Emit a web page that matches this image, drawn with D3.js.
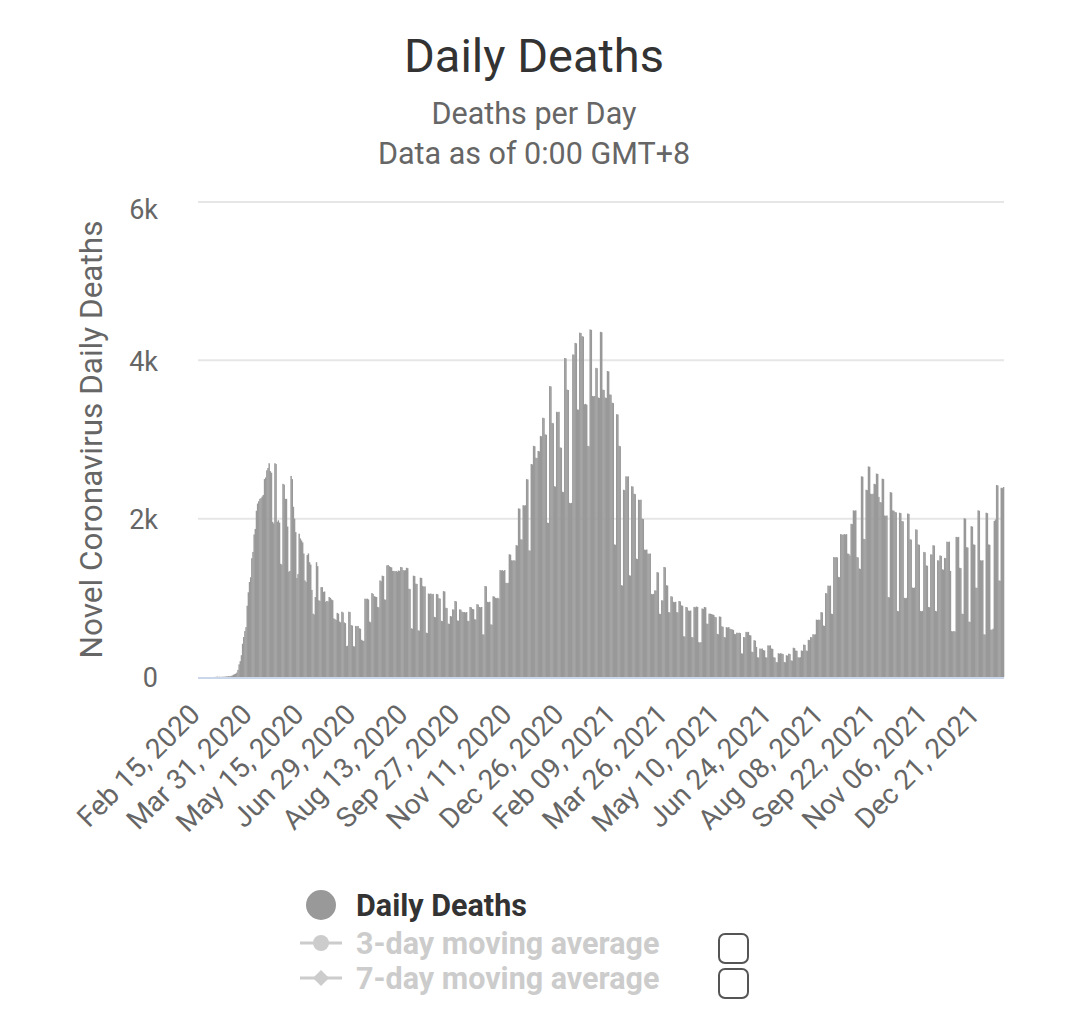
<!DOCTYPE html>
<html>
<head>
<meta charset="utf-8">
<script src="https://cdn.jsdelivr.net/npm/d3@7"></script>
<style>
  body { margin: 0; background: #fff; }
  svg { font-family: Roboto, "Noto Sans", sans-serif; }
</style>
</head>
<body>
<svg id="chart" width="1068" height="1024"></svg>
<script>
// daily deaths, first day is Feb 15, 2020
const feb2020 = [0,0,0,0,0,0,0,0,0,0,0,0,0,0,1];
const mar2020 = [1,5,1,4,1,2,3,4,4,8,7,11,10,14,18,28,35,42,55,90,160,200,275,420,505,580,630,900,1070,1200,1260];
const apr2020 = [1500,1580,1800,1870,2100,2190,2220,2250,2260,2280,2300,2500,2520,2610,2640,2700,2600,2580,1960,1940,2700,2690,1960,1980,1950,1430,1420,2440,2430,2250];
const may2020 = [2250,1900,1330,1340,2540,2500,2150,2000,1830,1250,1300,1810,1750,1725,1700,1560,1220,1200,1540,1560,1450,1420,1100,800,790,1010,1450,1400,970,960,1135];
const jun2020 = [1135,1075,1080,950,960,955,1010,1000,980,970,740,730,720,810,800,700,690,825,815,690,680,390,395,825,820,655,650,390,385,645];
const jul2020 = [640,645,615,610,470,460,455,990,985,990,980,700,690,1060,1050,1020,1015,1010,885,880,1220,1210,1280,1275,980,975,1410,1415,1400,1390,1385];
const aug2020 = [1340,1340,1335,1340,1330,1345,1340,1390,1385,1350,1345,1350,1380,1375,1115,1110,615,610,1280,1275,1180,1175,590,585,1255,1250,1150,1140,1145,560,555];
const sep2020 = [1055,1050,1055,1045,1050,760,755,1050,1045,995,990,710,705,1085,1080,875,870,675,670,770,765,855,850,960,955,715,710,855,850,825];
const oct2020 = [820,820,815,820,710,705,885,880,860,855,730,725,920,915,885,880,885,540,535,1150,1145,950,945,950,665,660,1020,1015,1000,995,1000];
const nov2020 = [990,1350,1345,1350,1340,1350,1190,1185,1190,1550,1545,1475,1470,1475,1470,1665,1660,2130,2125,1740,1735,2170,2165,2170,2500,2495,1600,1595,2690,2685];
const dec2020 = [2920,2915,2770,2765,2855,2850,3045,3040,3275,3270,3065,3060,1950,1945,3675,3670,3210,3205,2410,2405,3350,3345,3350,2900,2895,2340,2335,4030,4025,3630,3625];
const jan2021 = [2200,2195,2200,4075,4070,4220,4215,3380,3375,4350,4345,4305,4300,3445,3450,3440,2920,2915,4390,4385,3550,3545,3550,3905,3900,3530,3525,4360,4355,3630,3625];
const feb2021 = [3530,3525,3865,3860,3570,3565,3465,3460,1675,1670,3320,3315,2920,2915,1160,1155,2365,2360,2535,2530,2535,1285,1280,2410,2405,2315,2310,1495];
const mar2021 = [1490,2240,2235,2240,2000,1995,1610,1605,1610,1560,1555,1560,1050,1045,1050,1095,1090,1325,1320,800,795,970,965,1390,1385,1160,1155,820,815,1020,1015];
const apr2021 = [950,945,950,820,815,960,955,905,900,515,510,885,880,840,835,840,505,500,885,880,890,885,440,435,440,865,860,885,880,675];
const may2021 = [670,800,800,795,790,785,760,755,545,540,765,760,640,635,505,500,630,625,630,610,605,600,595,545,540,560,555,560,555,300,295];
const jun2021 = [505,500,570,565,570,530,525,320,315,465,460,380,250,245,360,355,360,340,335,250,245,400,395,400,360,355,250,245,190,185];
const jul2021 = [300,295,300,295,290,190,185,275,270,295,290,210,205,370,365,335,330,250,245,250,335,330,410,405,335,330,470,465,505,500,540];
const aug2021 = [535,540,725,720,725,720,820,815,650,645,1060,1055,1155,1150,1155,800,795,1515,1510,1515,1510,1265,1260,1805,1800,1795,1805,1800,1805,1560,1555];
const sep2021 = [1535,1935,1930,2105,2100,2105,1515,1510,1370,1365,2535,2530,1745,1740,2365,2360,2660,2655,2315,2310,2315,2440,2435,2570,2565,2275,2210,2205,2505,2500];
const oct2021 = [2040,2035,2040,1010,1005,2335,2330,2105,2100,2085,2080,835,830,2075,2070,1970,1965,1000,995,1000,2065,2060,1740,1735,1130,1125,1130,1865,1860,1675,1670];
const nov2021 = [835,830,835,1580,1575,1410,1405,885,880,1550,1545,1665,1660,835,830,1475,1470,1535,1530,1360,1355,1505,1500,1710,1705,1710,1340,580,575,580];
const dec2021 = [575,1770,1765,1770,1380,1375,800,795,2005,2000,1640,1635,700,695,1905,1900,1675,1670,1130,1125,2105,2100,1475,1470,1475,540,535,2075,2070,1675,1670];
const jan2022 = [600,595,610,1970,1990,2425,2420,1220,1215,2390,2385,2400];

const yTicks = [0, 2000, 4000, 6000];
const tickEvery = 45;
const legendNames = ["Daily Deaths", "3-day moving average", "7-day moving average"];

const deaths = [].concat(
  feb2020, mar2020, apr2020, may2020, jun2020, jul2020, aug2020, sep2020,
  oct2020, nov2020, dec2020, jan2021, feb2021, mar2021, apr2021, may2021,
  jun2021, jul2021, aug2021, sep2021, oct2021, nov2021, dec2021, jan2022
);
const firstDay = new Date(2020, 1, 15);
const categories = deaths.map((d, i) => d3.timeDay.offset(firstDay, i));
const fmt = d3.timeFormat("%b %d, %Y");

const svg = d3.select("#chart");
const plot = { left: 198, right: 1004, top: 202, bottom: 677 };

const x = d3
  .scaleBand()
  .domain(d3.range(deaths.length))
  .range([plot.left, plot.right])
  .padding(0);

const y = d3
  .scaleLinear()
  .domain([0, 6000])
  .range([plot.bottom, plot.top]);

// titles
svg.append("text")
  .attr("x", 534).attr("y", 72)
  .attr("text-anchor", "middle")
  .attr("font-size", 47)
  .attr("fill", "#333")
  .text("Daily Deaths");

svg.append("text")
  .attr("x", 534).attr("y", 124)
  .attr("text-anchor", "middle")
  .attr("font-size", 30.5)
  .attr("fill", "#666")
  .text("Deaths per Day");

svg.append("text")
  .attr("x", 534).attr("y", 164)
  .attr("text-anchor", "middle")
  .attr("font-size", 30.5)
  .attr("fill", "#666")
  .text("Data as of 0:00 GMT+8");

// grid
svg.append("g")
  .selectAll("line")
  .data(yTicks.filter((d) => d > 0))
  .enter()
  .append("line")
  .attr("x1", plot.left)
  .attr("x2", plot.right)
  .attr("y1", (d) => y(d))
  .attr("y2", (d) => y(d))
  .attr("stroke", "#e6e6e6")
  .attr("stroke-width", 2);

// bars
svg.append("g")
  .selectAll("rect")
  .data(deaths)
  .enter()
  .append("rect")
  .attr("x", (d, i) => x(i))
  .attr("y", (d) => y(d))
  .attr("width", x.bandwidth() + 0.3)
  .attr("height", (d) => y(0) - y(d))
  .attr("fill", "#999999");

// x axis line
svg.append("line")
  .attr("x1", plot.left)
  .attr("x2", plot.right)
  .attr("y1", y(0) + 1)
  .attr("y2", y(0) + 1)
  .attr("stroke", "#ccd6eb")
  .attr("stroke-width", 2);

// y labels
svg.append("g")
  .selectAll("text")
  .data(yTicks)
  .enter()
  .append("text")
  .attr("x", 158)
  .attr("y", (d) => y(d))
  .attr("dy", (d) => (d === 6000 ? "0.62em" : "0.38em"))
  .attr("text-anchor", "end")
  .attr("font-size", 27)
  .attr("fill", "#666")
  .text((d) => (d === 0 ? "0" : d / 1000 + "k"));

svg.append("text")
  .attr("transform", `translate(102,${(plot.top + plot.bottom) / 2}) rotate(-90)`)
  .attr("text-anchor", "middle")
  .attr("font-size", 31.5)
  .attr("fill", "#666")
  .text("Novel Coronavirus Daily Deaths");

// x labels
const xTicks = d3.range(0, deaths.length, tickEvery).filter((i) => i + tickEvery / 2 < deaths.length);
svg.append("g")
  .selectAll("text")
  .data(xTicks)
  .enter()
  .append("text")
  .attr("transform", (i) => `translate(${x(i) + x.bandwidth() / 2 + 3},716) rotate(-45)`)
  .attr("text-anchor", "end")
  .attr("font-size", 28)
  .attr("fill", "#666")
  .text((i) => fmt(categories[i]));

// legend
const legend = svg.append("g");
const rowY = [905, 943, 978];

legend.append("circle")
  .attr("cx", 321).attr("cy", rowY[0]).attr("r", 15)
  .attr("fill", "#999999");

legend.selectAll("line.sym")
  .data([1, 2])
  .enter()
  .append("line")
  .attr("x1", 300).attr("x2", 342)
  .attr("y1", (d) => rowY[d]).attr("y2", (d) => rowY[d])
  .attr("stroke", "#cccccc")
  .attr("stroke-width", 3);

legend.append("circle")
  .attr("cx", 321).attr("cy", rowY[1]).attr("r", 8)
  .attr("fill", "#cccccc");

// highcharts-style diamond: a square turned 45 degrees
legend.append("path")
  .attr("d", d3.symbol(d3.symbolSquare, 130)())
  .attr("transform", `translate(321,${rowY[2]}) rotate(45)`)
  .attr("fill", "#cccccc");

legend.selectAll("text")
  .data(legendNames)
  .enter()
  .append("text")
  .attr("x", 356)
  .attr("y", (d, i) => rowY[i] + 11)
  .attr("font-size", 30.5)
  .attr("font-weight", "bold")
  .attr("fill", (d, i) => (i === 0 ? "#333" : "#cccccc"))
  .text((d) => d);

legend.selectAll("rect")
  .data([1, 2])
  .enter()
  .append("rect")
  .attr("x", 719)
  .attr("y", (d) => rowY[d] - 9)
  .attr("width", 29)
  .attr("height", 29)
  .attr("rx", 6)
  .attr("fill", "#fff")
  .attr("stroke", "#555")
  .attr("stroke-width", 2);
</script>
</body>
</html>
